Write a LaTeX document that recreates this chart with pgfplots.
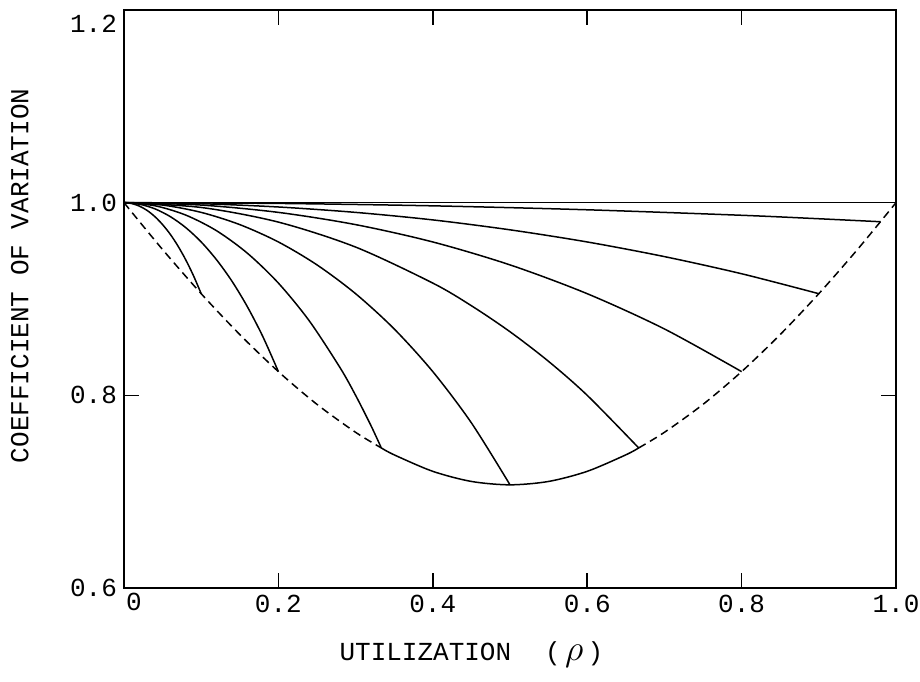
\documentclass[border=0pt]{standalone}
\usepackage{fontspec}
\setmainfont{Liberation Mono}
\usepackage{pgfplots}
\pgfplotsset{compat=1.18}
\begin{document}
\begin{tikzpicture}
\begin{axis}[name=ax, scale only axis, width=386pt, height=289pt,
  xmin=0, xmax=1, ymin=0.6, ymax=1.2,
  xtick={0.2,0.4,0.6,0.8,1.0}, xticklabels={0.2,0.4,0.6,0.8,1.0},
  ytick={0.6,0.8,1.0}, yticklabels={0.6,0.8,1.0},
  extra x ticks={0}, extra x tick labels={0},
  extra x tick style={major tick length=0pt, xticklabel style={xshift=5pt, yshift=1pt}},
  extra y ticks={1.2}, extra y tick labels={1.2},
  extra y tick style={major tick length=0pt, yticklabel style={yshift=-7pt}},
  major tick length=7.5pt,
  tick style={black, line width=0.8pt},
  axis line style={line width=1pt},
  font=\fontsize{13}{15}\selectfont,
  /pgf/number format/assume math mode=true,
  xlabel={UTILIZATION\hspace{17pt}(\,\scalebox{1.5}{$\rho$}\,)},
  ylabel={COEFFICIENT OF VARIATION},
  xlabel style={at={(axis description cs:0.45,-0.116)}, anchor=center},
  ylabel style={at={(axis description cs:-0.135,0.54)}, anchor=center},
  every axis plot/.append style={black, line width=0.75pt, mark=none},
]
% upper limit
\addplot[black] coordinates {(0,1) (1,1)};
% lower envelope (dashed / solid / dashed)
\addplot[dash pattern=on 4pt off 2.5pt, smooth] coordinates {
(0,1) (0.05,0.9513) (0.1,0.9055) (0.15,0.8631) (0.2,0.8246) (0.25,0.7906) (0.3,0.7616) (0.3333,0.7454)};
\addplot[smooth] coordinates {
(0.3333,0.7454) (0.35,0.7382) (0.4,0.7211) (0.45,0.7106) (0.5,0.7071) (0.55,0.7106) (0.6,0.7211) (0.65,0.7382) (0.6667,0.7454)};
\addplot[dash pattern=on 4pt off 2.5pt, smooth] coordinates {
(0.6667,0.7454) (0.7,0.7616) (0.75,0.7906) (0.8,0.8246) (0.85,0.8631) (0.9,0.9055) (0.95,0.9513) (1.0,1.0)};
% family of curves
\addplot[smooth] coordinates {
(0,1) (0.01,0.9991) (0.02,0.9964) (0.03,0.9919) (0.04,0.9855) (0.05,0.9772) (0.06,0.9671) (0.07,0.9549) (0.08,0.9406) (0.09,0.9242) (0.1,0.9055)};
\addplot[smooth] coordinates {
(0,1) (0.02,0.9984) (0.04,0.9936) (0.06,0.9855) (0.08,0.9741) (0.1,0.9592) (0.12,0.9406) (0.14,0.9183) (0.16,0.8917) (0.18,0.8607) (0.2,0.8246)};
\addplot[smooth] coordinates {
(0,1) (0.04,0.9968) (0.08,0.9871) (0.12,0.9708) (0.16,0.9474) (0.2,0.9165) (0.24,0.8773) (0.28,0.8285) (0.3,0.8) (0.32,0.7684) (0.3333,0.7454)};
\addplot[smooth] coordinates {
(0,1) (0.05,0.9975) (0.1,0.9899) (0.15,0.9772) (0.2,0.9592) (0.25,0.9354) (0.3,0.9055) (0.35,0.8689) (0.4,0.8246) (0.45,0.7714) (0.5,0.7071)};
\addplot[smooth] coordinates {
(0,1) (0.1,0.995) (0.2,0.9798) (0.3,0.9539) (0.4,0.9165) (0.45,0.8930) (0.5,0.8660) (0.55,0.8352) (0.6,0.8) (0.6667,0.7454)};
\addplot[smooth] coordinates {
(0,1) (0.1,0.9975) (0.2,0.9899) (0.3,0.9772) (0.4,0.9592) (0.5,0.9354) (0.6,0.9055) (0.7,0.8689) (0.8,0.8246)};
\addplot[smooth] coordinates {
(0,1) (0.1,0.9989) (0.2,0.9955) (0.3,0.9899) (0.4,0.9821) (0.5,0.9718) (0.6,0.9592) (0.7,0.9440) (0.8,0.9262) (0.9,0.9055)};
\addplot[smooth] coordinates {
(0,1) (0.2,0.9992) (0.4,0.9967) (0.6,0.9926) (0.8,0.9869) (0.9,0.9833) (0.98,0.9802)};
\end{axis}
\pgfresetboundingbox
\path ([shift={(-62pt,-47pt)}]ax.south west) rectangle ([shift={(12pt,5pt)}]ax.north east);
\end{tikzpicture}
\end{document}
